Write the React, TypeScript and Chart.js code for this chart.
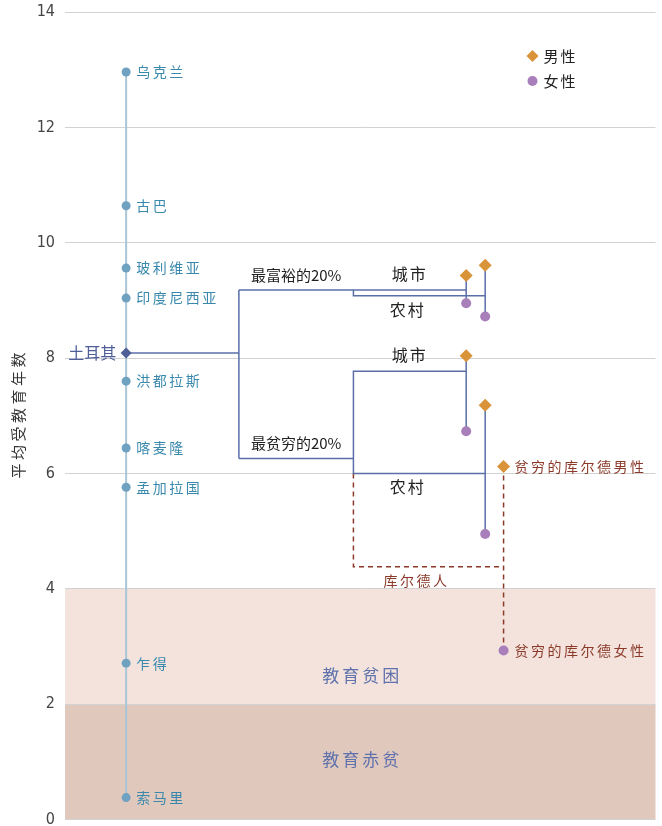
import React, { useEffect, useRef } from 'react';
import { Chart, registerables } from 'chart.js';

Chart.register(...registerables);

// ---------- data ----------
const countries = ['乌克兰', '古巴', '玻利维亚', '印度尼西亚', '洪都拉斯', '喀麦隆', '孟加拉国', '乍得', '索马里'];
const countryYears = [12.96, 10.64, 9.56, 9.04, 7.6, 6.44, 5.76, 2.71, 0.38];

const turkeyLabel = '土耳其';
const turkeyYears = 8.09;

const quintileLabels = ['最富裕的20%', '最贫穷的20%'];
const quintileYears = [9.18, 6.26]; // richest, poorest

const areaLabels = ['城市', '农村'];
const richAreaYears = [9.18, 9.08]; // urban, rural
const poorAreaYears = [7.77, 6.0]; // urban, rural

const genderLabels = ['男性', '女性'];
// order: rich urban, rich rural, poor urban, poor rural
const maleYears = [9.43, 9.61, 8.04, 7.18];
const femaleYears = [8.95, 8.72, 6.73, 4.95];

const kurdLabels = ['贫穷的库尔德男性', '贫穷的库尔德女性', '库尔德人'];
const kurdMaleYears = 6.12;
const kurdFemaleYears = 2.93;
const kurdBracketYears = 4.38;

const bandLabels = ['教育赤贫', '教育贫困'];
const bandLower = [0, 2];
const bandUpper = [2, 4];
const bandLabelYears = [1.04, 2.5];

const yTicks = [0, 2, 4, 6, 8, 10, 12, 14];
const yTitle = '平均受教育年数';

// ---------- layout (horizontal levels of the tree, abstract 0-100 scale) ----------
const XL = { country: 10.3, split: 29.3, group: 48.6, urban: 67.6, rural: 70.8, kurd: 73.9 };

// ---------- colours ----------
const C = {
  countryLine: '#a9c6d6',
  countryDot: '#6fa1c0',
  countryText: '#3a89ad',
  tree: '#5a6ea8',
  turkey: '#4f5e98',
  male: '#d99339',
  female: '#a87fba',
  kurd: '#8b3a2a',
  band0: '#e0c8bd',
  band1: '#f3e3dc',
  bandText: '#5f72ad',
  grid: '#d2d2d2',
  text: '#222222',
};
const CJK = '"Noto Sans CJK SC", "Noto Sans", sans-serif';

function seg(points: { x: number; y: number }[], color: string, dash: number[] = [], width = 1.5) {
  return {
    type: 'scatter' as const,
    data: points,
    showLine: true,
    borderColor: color,
    borderWidth: width,
    borderDash: dash,
    pointRadius: 0,
    pointHoverRadius: 0,
    fill: false,
    order: 5,
  };
}

export default function App() {
  const ref = useRef<HTMLCanvasElement | null>(null);

  useEffect(() => {
    document.body.style.margin = '0';
    const canvas = ref.current;
    if (!canvas) return;

    const [richU, richR] = richAreaYears;
    const [poorU, poorR] = poorAreaYears;
    const [richAll, poorAll] = quintileYears;

    const datasets: any[] = [
      {
        label: genderLabels[0],
        data: [
          { x: XL.urban, y: maleYears[0] },
          { x: XL.rural, y: maleYears[1] },
          { x: XL.urban, y: maleYears[2] },
          { x: XL.rural, y: maleYears[3] },
          { x: XL.kurd, y: kurdMaleYears },
        ],
        pointStyle: 'rectRot',
        pointRadius: 6.5,
        backgroundColor: C.male,
        borderColor: C.male,
        borderWidth: 0,
        showLine: false,
        order: 1,
      },
      {
        label: genderLabels[1],
        data: [
          { x: XL.urban, y: femaleYears[0] },
          { x: XL.rural, y: femaleYears[1] },
          { x: XL.urban, y: femaleYears[2] },
          { x: XL.rural, y: femaleYears[3] },
          { x: XL.kurd, y: kurdFemaleYears },
        ],
        pointStyle: 'circle',
        pointRadius: 5,
        backgroundColor: C.female,
        borderColor: C.female,
        borderWidth: 0,
        showLine: false,
        order: 1,
      },
      {
        label: 'countries',
        data: countryYears.map((y) => ({ x: XL.country, y })),
        showLine: true,
        borderColor: C.countryLine,
        borderWidth: 2,
        pointRadius: 4.5,
        pointBackgroundColor: C.countryDot,
        pointBorderWidth: 0,
        order: 3,
      },
      {
        label: 'turkey',
        data: [{ x: XL.country, y: turkeyYears }, { x: XL.split, y: turkeyYears }],
        showLine: true,
        borderColor: C.tree,
        borderWidth: 1.5,
        pointStyle: 'rectRot',
        pointRadius: [5.5, 0],
        pointBackgroundColor: C.turkey,
        pointBorderWidth: 0,
        order: 2,
      },
      seg([{ x: XL.split, y: richAll }, { x: XL.split, y: poorAll }], C.tree),
      seg([{ x: XL.split, y: richAll }, { x: XL.group, y: richAll }, { x: XL.group, y: richU }, { x: XL.urban, y: richU }], C.tree),
      seg([{ x: XL.group, y: richU }, { x: XL.group, y: richR }, { x: XL.rural, y: richR }], C.tree),
      seg([{ x: XL.split, y: poorAll }, { x: XL.group, y: poorAll }], C.tree),
      seg([{ x: XL.urban, y: poorU }, { x: XL.group, y: poorU }, { x: XL.group, y: poorR }, { x: XL.rural, y: poorR }], C.tree),
      seg([{ x: XL.urban, y: maleYears[0] }, { x: XL.urban, y: femaleYears[0] }], C.tree),
      seg([{ x: XL.rural, y: maleYears[1] }, { x: XL.rural, y: femaleYears[1] }], C.tree),
      seg([{ x: XL.urban, y: maleYears[2] }, { x: XL.urban, y: femaleYears[2] }], C.tree),
      seg([{ x: XL.rural, y: maleYears[3] }, { x: XL.rural, y: femaleYears[3] }], C.tree),
      seg([{ x: XL.group, y: poorR }, { x: XL.group, y: kurdBracketYears }, { x: XL.kurd, y: kurdBracketYears }], C.kurd, [5, 4]),
      seg([{ x: XL.kurd, y: kurdMaleYears }, { x: XL.kurd, y: kurdFemaleYears }], C.kurd, [5, 4]),
    ];

    const bandsPlugin = {
      id: 'bands',
      beforeDraw(chart: any) {
        const { ctx, chartArea, scales } = chart;
        const y = scales.y;
        ctx.save();
        bandLower.forEach((lo, i) => {
          const top = y.getPixelForValue(bandUpper[i]);
          const bot = y.getPixelForValue(lo);
          ctx.fillStyle = i === 0 ? C.band0 : C.band1;
          ctx.fillRect(chartArea.left, top, chartArea.right - chartArea.left, bot - top);
        });
        ctx.restore();
      },
    };

    const labelsPlugin = {
      id: 'labels',
      afterDatasetsDraw(chart: any) {
        const { ctx, chartArea, scales } = chart;
        const xs = scales.x;
        const ys = scales.y;
        const px = (v: number) => xs.getPixelForValue(v);
        const py = (v: number) => ys.getPixelForValue(v);
        const text = (s: string, x: number, y: number, font: string, color: string, align: CanvasTextAlign, spacing = 0) => {
          ctx.save();
          ctx.font = font;
          ctx.fillStyle = color;
          ctx.textAlign = align;
          ctx.textBaseline = 'middle';
          (ctx as any).letterSpacing = spacing + 'px';
          ctx.fillText(s, x, y);
          ctx.restore();
        };

        // axis title (rotated)
        ctx.save();
        ctx.translate(18, (chartArea.top + chartArea.bottom) / 2);
        ctx.rotate(-Math.PI / 2);
        ctx.font = `15px ${CJK}`;
        ctx.fillStyle = '#333';
        ctx.textAlign = 'center';
        ctx.textBaseline = 'middle';
        (ctx as any).letterSpacing = '3.5px';
        ctx.fillText(yTitle, 2, 0);
        ctx.restore();

        bandLabels.forEach((s, i) => {
          text(s, (chartArea.left + chartArea.right) / 2 + 2, py(bandLabelYears[i]), `17px ${CJK}`, C.bandText, 'center', 3);
        });

        countries.forEach((s, i) => {
          text(s, px(XL.country) + 10, py(countryYears[i]), `14px ${CJK}`, C.countryText, 'left', 2.5);
        });
        text(turkeyLabel, px(XL.country) - 10, py(turkeyYears), `16px ${CJK}`, C.turkey, 'right', 0);

        const midSG = (px(XL.split) + px(XL.group)) / 2;
        text(quintileLabels[0], midSG, py(quintileYears[0]) - 15, `15px ${CJK}`, C.text, 'center', 0);
        text(quintileLabels[1], midSG, py(quintileYears[1]) - 15, `15px ${CJK}`, C.text, 'center', 0);

        const midGU = (px(XL.group) + px(XL.urban)) / 2;
        text(areaLabels[0], midGU, py(richAreaYears[0]) - 16, `16px ${CJK}`, C.text, 'center', 2);
        text(areaLabels[1], midGU - 2, py(richAreaYears[1]) + 14, `16px ${CJK}`, C.text, 'center', 2);
        text(areaLabels[0], midGU, py(poorAreaYears[0]) - 16, `16px ${CJK}`, C.text, 'center', 2);
        text(areaLabels[1], midGU - 2, py(poorAreaYears[1]) + 13, `16px ${CJK}`, C.text, 'center', 2);

        text(kurdLabels[0], px(XL.kurd) + 11, py(kurdMaleYears), `14px ${CJK}`, C.kurd, 'left', 2.5);
        text(kurdLabels[1], px(XL.kurd) + 11, py(kurdFemaleYears), `14px ${CJK}`, C.kurd, 'left', 2.5);
        const midGK = (px(XL.group) + px(XL.kurd)) / 2;
        text(kurdLabels[2], midGK - 12, py(kurdBracketYears) + 14, `14px ${CJK}`, C.kurd, 'center', 2.5);

        // legend
        const lx = chartArea.right - 123;
        const ly = chartArea.top + 44;
        ctx.save();
        ctx.fillStyle = C.male;
        ctx.beginPath();
        ctx.moveTo(lx, ly - 6);
        ctx.lineTo(lx + 6, ly);
        ctx.lineTo(lx, ly + 6);
        ctx.lineTo(lx - 6, ly);
        ctx.closePath();
        ctx.fill();
        ctx.fillStyle = C.female;
        ctx.beginPath();
        ctx.arc(lx, ly + 25, 5, 0, Math.PI * 2);
        ctx.fill();
        ctx.restore();
        text(genderLabels[0], lx + 11, ly, `15px ${CJK}`, C.text, 'left', 2);
        text(genderLabels[1], lx + 11, ly + 25, `15px ${CJK}`, C.text, 'left', 2);
      },
    };

    const chart = new Chart(canvas, {
      type: 'scatter',
      data: { datasets },
      options: {
        animation: false,
        responsive: false,
        maintainAspectRatio: false,
        layout: { padding: { top: 12, bottom: 6, left: 0, right: 2 } },
        plugins: {
          legend: { display: false },
          tooltip: { enabled: false },
        },
        scales: {
          x: { type: 'linear', min: 0, max: 99.5, display: false },
          y: {
            type: 'linear',
            min: 0,
            max: 14,
            afterBuildTicks: (scale: any) => {
              scale.ticks = yTicks.map((v) => ({ value: v }));
            },
            afterFit: (scale: any) => {
              scale.width = 65;
              scale.paddingTop = 0;
              scale.paddingBottom = 0;
            },
            border: { display: false },
            grid: { color: C.grid, lineWidth: 1, drawTicks: false },
            ticks: {
              padding: 10,
              color: '#444',
              font: { family: '"DejaVu Sans Condensed", "Liberation Sans Narrow", Roboto, sans-serif', size: 16, lineHeight: 1 },
            },
            title: { display: false, text: yTitle },
          },
        },
      },
      plugins: [bandsPlugin, labelsPlugin],
    });

    return () => chart.destroy();
  }, []);

  return (
    <div style={{ width: 662, height: 826 }}>
      <canvas ref={ref} width={662} height={826} style={{ display: 'block' }} />
    </div>
  );
}
